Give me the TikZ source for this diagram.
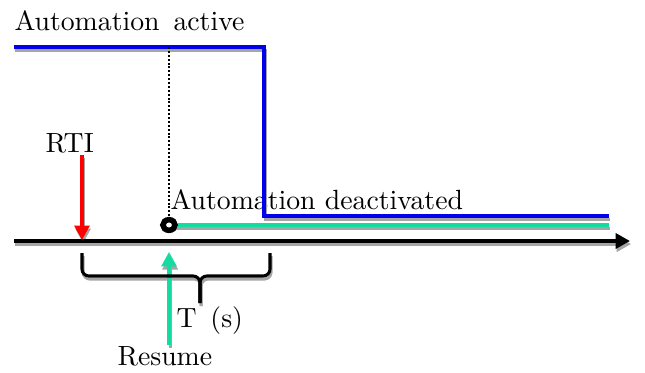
\documentclass[tikz,border=0pt]{standalone}
\usepackage{xcolor}
\usepackage{tikz}
\usetikzlibrary{arrows.meta,shapes.geometric}
\usetikzlibrary{calc,positioning}

\definecolor{autoblue}{RGB}{0,0,235}
\definecolor{resumegreen}{RGB}{20,220,160}
\definecolor{shadowgray}{RGB}{165,165,165}

\tikzset{
    lvl/.style={line width=1.1pt},
    drop/.style={draw=shadowgray, transform canvas={xshift=0.4pt,yshift=-1.1pt}},
    tip/.style={-{Triangle[length=5.2pt,width=5.4pt]}},
    txt/.style={inner sep=0pt, anchor=base west},
    ring/.style={ellipse, draw=black, fill=white, line width=2pt,
        inner sep=0pt, minimum width=4.4pt, minimum height=3.8pt},
}

\begin{document}
\begin{tikzpicture}[x=0.36pt, y=-0.36pt]

    \useasboundingbox (0,0) rectangle (645,372);

    % Labels
    \node[txt] (active) at (14,30) {Automation\, active};
    \node[txt] (deact) at (170,209) {Automation deactivated};
    \node[txt] (rti) at (45,152) {RTI};
    \node[txt] (period) at (176,327) {T\, (s)};
    \node[txt] (resume) at (117,365) {Resume};

    % Points
    \coordinate (act start) at (14,47);
    \coordinate (act drop) at (264,47);
    \coordinate (deact end) at (609,216);
    \coordinate (green end) at (609,225);
    \coordinate (axis start) at (14,241);
    \coordinate (axis end) at (630,241);
    \coordinate (rti tail) at (82,155);
    \coordinate (rti tip) at (82,240);
    \coordinate (resume tail) at (169,345);
    \coordinate (resume tip) at (169,252);

    % Shadows
    \draw[lvl, drop] (act start) -- (act drop) |- (deact end);
    \draw[lvl, drop] (169,225) -- (green end);
    \draw[line width=1.5pt, drop, tip] (axis start) -- (axis end);
    \draw[lvl, drop, tip] (rti tail) -- (rti tip);
    \draw[lvl, drop, tip] (resume tail) -- (resume tip);
    \draw[lvl, drop, rounded corners=2.5pt] (82,253) -- (82,276) -- (200,276) -- (200,303);
    \draw[lvl, drop, rounded corners=2.5pt] (270,253) -- (270,276) -- (200,276) -- (200,303);

    % Levels
    \draw[lvl, autoblue] (act start) -- (act drop) |- (deact end);
    \node[ring] (ring) at (169,225) {};
    \draw[lvl, resumegreen] (ring.east) -- (green end);
    \draw[line width=0.8pt, dash pattern=on 0.7pt off 0.7pt] (ring |- act start) -- (ring.north);

    % Time axis
    \draw[line width=1.5pt, tip] (axis start) -- (axis end);

    % Events
    \draw[lvl, red, tip] (rti tail) -- (rti tip);
    \draw[lvl, resumegreen, tip] (resume tail) -- (resume tip);

    % Brace
    \draw[lvl, rounded corners=2.5pt] (82,253) -- (82,276) -- (200,276) -- (200,303);
    \draw[lvl, rounded corners=2.5pt] (270,253) -- (270,276) -- (200,276) -- (200,303);

\end{tikzpicture}
\end{document}
